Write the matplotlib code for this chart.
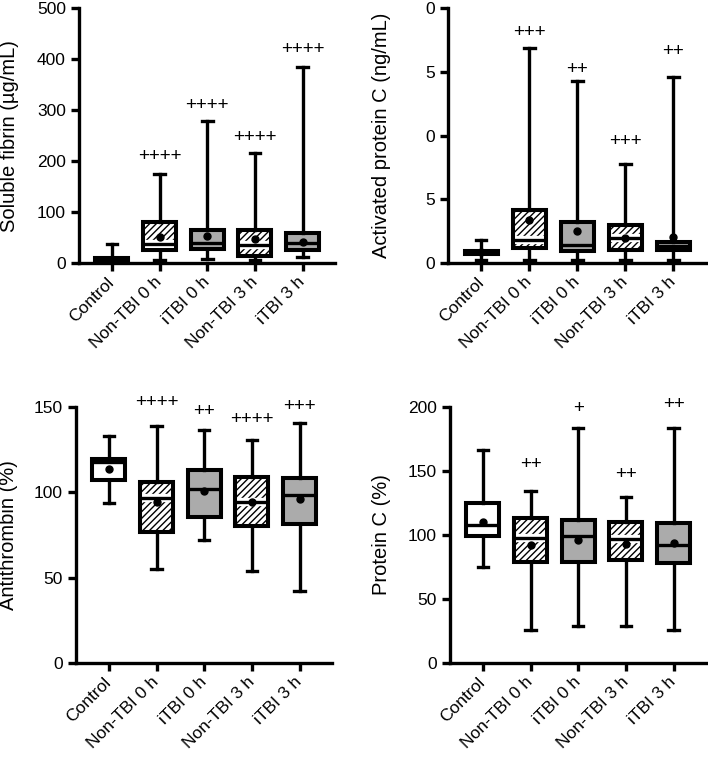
import matplotlib
matplotlib.use('Agg')
import matplotlib.pyplot as plt
import matplotlib.patheffects as pe

plt.rcParams['font.family'] = ['Liberation Sans', 'DejaVu Sans']
plt.rcParams['hatch.linewidth'] = 1.0

groups = ['Control', 'Non-TBI 0 h', 'iTBI 0 h', 'Non-TBI 3 h', 'iTBI 3 h']

# soluble fibrin (ug/mL)
sf_min = [0, 6, 8, 6, 12]
sf_q1 = [1, 25, 27, 14, 25]
sf_med = [4, 38, 39, 36, 39]
sf_q3 = [9, 80, 64, 64, 59]
sf_max = [38, 175, 278, 216, 384]
sf_mean = [5, 51, 53, 47, 42]
sf_plus = ['', '++++', '++++', '++++', '++++']
sf_plus_y = [0, 209, 309, 246, 418]

# activated protein C (ng/mL)
apc_min = [0.26, 0.26, 0.26, 0.26, 0.26]
apc_q1 = [0.72, 1.18, 0.92, 0.99, 0.99]
apc_med = [0.85, 1.83, 1.44, 1.96, 1.31]
apc_q3 = [0.95, 4.13, 3.19, 2.95, 1.65]
apc_max = [1.78, 16.86, 14.25, 7.79, 14.6]
apc_mean = [0.85, 3.35, 2.54, 1.95, 2.04]
apc_plus = ['', '+++', '++', '+++', '++']
apc_plus_y = [0, 18.1, 15.2, 9.5, 16.6]
apc_ticklabels = ['0', '5', '0', '5', '0']

# antithrombin (%)
at_min = [94, 55, 72, 54, 42]
at_q1 = [107.3, 76.6, 85.8, 80.5, 81.3]
at_med = [117.5, 96.5, 102, 94.6, 98.5]
at_q3 = [119.4, 106.3, 113.2, 108.7, 108.3]
at_max = [132.8, 138.6, 136.7, 130.4, 140.6]
at_mean = [113.5, 94.6, 100.8, 94.5, 95.9]
at_plus = ['', '++++', '++', '++++', '+++']
at_plus_y = [0, 152.7, 147.5, 142.5, 150]

# protein C (%)
pc_min = [75.2, 25.6, 29, 29, 26]
pc_q1 = [99.2, 79, 79, 80.4, 77.8]
pc_med = [107.8, 97.4, 99.2, 96.6, 92.2]
pc_q3 = [124.8, 113, 111.7, 109.9, 109]
pc_max = [166.6, 134, 183.6, 129.5, 183.6]
pc_mean = [110.4, 92.2, 96, 92.7, 93.5]
pc_plus = ['', '++', '+', '++', '++']
pc_plus_y = [0, 154.8, 199, 147, 201.8]

fills = ['white', 'white', '#ababab', 'white', '#ababab']
hatches = ['', '/////', '', '/////', '']


def make_stats(mins, q1, med, q3, maxs, means):
    stats = []
    for i in range(len(groups)):
        stats.append(dict(whislo=mins[i], q1=q1[i], med=med[i], q3=q3[i],
                          whishi=maxs[i], mean=means[i], fliers=[]))
    return stats


def draw_panel(ax, stats, ylim, yticks, ylabel, plus, plus_y, yticklabels=None):
    pos = range(len(groups))
    bp = ax.bxp(stats, positions=pos, widths=0.69, capwidths=0.22,
                patch_artist=True, showmeans=True, showfliers=False,
                boxprops=dict(linewidth=2.9, edgecolor='black'),
                whiskerprops=dict(linewidth=2.4, color='black'),
                capprops=dict(linewidth=2.4, color='black'),
                medianprops=dict(linewidth=2.4, color='black'),
                meanprops=dict(marker='o', markerfacecolor='black',
                               markeredgecolor='black', markersize=5))
    for patch, face, h in zip(bp['boxes'], fills, hatches):
        patch.set_facecolor(face)
        patch.set_hatch(h)
    # white gap around the median inside hatched boxes
    for med, h in zip(bp['medians'], hatches):
        if h:
            med.set_path_effects([pe.Stroke(linewidth=6, foreground='white'), pe.Normal()])
    # redraw box outlines on top
    bp2 = ax.bxp(stats, positions=pos, widths=0.69, patch_artist=True,
                 showmeans=False, showfliers=False, showcaps=False,
                 boxprops=dict(linewidth=2.9, edgecolor='black', facecolor='none'),
                 whiskerprops=dict(linewidth=0),
                 medianprops=dict(linewidth=0))
    for patch in bp2['boxes']:
        patch.set_zorder(3)
    for i, t in enumerate(plus):
        if t:
            ax.text(i, plus_y[i], t, ha='center', va='center', fontsize=13.5)
    ax.set_xlim(-0.69, 4.68)
    ax.set_ylim(*ylim)
    ax.set_yticks(yticks)
    if yticklabels is not None:
        ax.set_yticklabels(yticklabels)
    ax.set_xticks(list(pos))
    ax.set_xticklabels(groups, rotation=45, ha='right', va='center',
                       rotation_mode='anchor', fontsize=14)
    ax.set_ylabel(ylabel, fontsize=14.5)
    for s in ['top', 'right']:
        ax.spines[s].set_visible(False)
    for s in ['left', 'bottom']:
        ax.spines[s].set_linewidth(2.4)
    ax.tick_params(width=2.4, length=6, labelsize=12.5)
    ax.tick_params(axis='x', pad=6)


fig = plt.figure(figsize=(7.08, 7.63), dpi=100)
ax1 = fig.add_axes([0.1116, 0.6553, 0.3616, 0.334])
ax2 = fig.add_axes([0.6328, 0.6553, 0.3644, 0.334])
ax3 = fig.add_axes([0.1073, 0.1311, 0.3616, 0.3355])
ax4 = fig.add_axes([0.6356, 0.1311, 0.3616, 0.3355])

draw_panel(ax1, make_stats(sf_min, sf_q1, sf_med, sf_q3, sf_max, sf_mean),
           (0, 500), [0, 100, 200, 300, 400, 500], 'Soluble fibrin (\u00b5g/mL)',
           sf_plus, sf_plus_y)
draw_panel(ax2, make_stats(apc_min, apc_q1, apc_med, apc_q3, apc_max, apc_mean),
           (0, 20), [0, 5, 10, 15, 20], 'Activated protein C (ng/mL)',
           apc_plus, apc_plus_y, apc_ticklabels)
draw_panel(ax3, make_stats(at_min, at_q1, at_med, at_q3, at_max, at_mean),
           (0, 150), [0, 50, 100, 150], 'Antithrombin (%)',
           at_plus, at_plus_y)
draw_panel(ax4, make_stats(pc_min, pc_q1, pc_med, pc_q3, pc_max, pc_mean),
           (0, 200), [0, 50, 100, 150, 200], 'Protein C (%)',
           pc_plus, pc_plus_y)

ax1.yaxis.set_label_coords(-0.234, 0.5)
ax2.yaxis.set_label_coords(-0.22, 0.5)
ax3.yaxis.set_label_coords(-0.227, 0.5)
ax4.yaxis.set_label_coords(-0.23, 0.5)

fig.savefig('out.png', dpi=100)
